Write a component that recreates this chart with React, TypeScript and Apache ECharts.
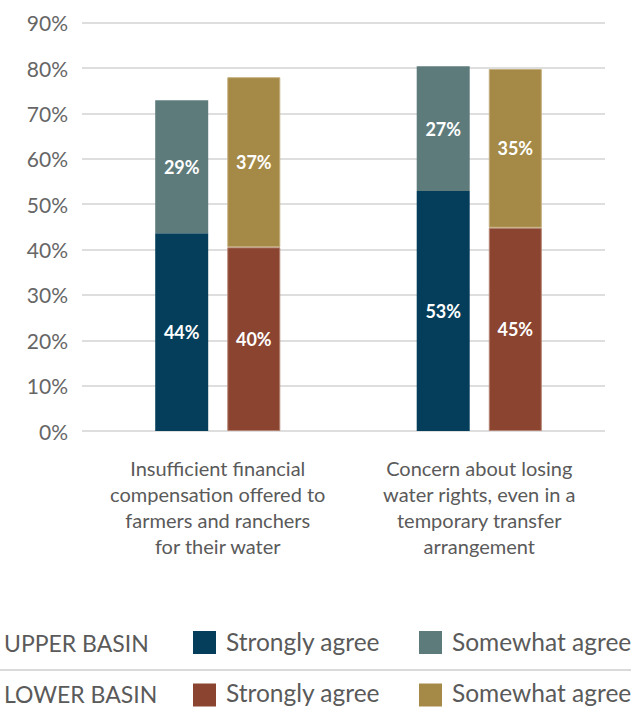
import React, { useEffect, useRef } from "react";
import * as echarts from "echarts";

const categories = [
  "Insufficient financial\ncompensation offered to\nfarmers and ranchers\nfor their water",
  "Concern about losing\nwater rights, even in a\ntemporary transfer\narrangement",
];
const upperStrongly = [43.6, 52.9];
const upperSomewhat = [29.3, 27.49];
const lowerStrongly = [40.49, 44.8];
const lowerSomewhat = [37.49, 35.0];
const basinNames = ["UPPER BASIN", "LOWER BASIN"];
const agreeNames = ["Strongly agree", "Somewhat agree"];
const yMin = 0;
const yMax = 90;
const yInterval = 10;

const COLORS = {
  upperStrong: "#053E5A",
  upperSome: "#5E7B7C",
  lowerStrong: "#8A4430",
  lowerSome: "#A58A47",
};
const FONT = "Lato, 'Noto Sans', sans-serif";
const TEXT = "#5a5a5a";

export default function App() {
  const ref = useRef<HTMLDivElement>(null);
  useEffect(() => {
    if (!ref.current) return;
    const chart = echarts.init(ref.current, null, { renderer: "svg" });
    const label = {
      show: true,
      position: "inside",
      color: "#ffffff",
      fontSize: 18,
      fontWeight: "bold",
      fontFamily: FONT,
      formatter: (p: any) => Math.round(p.value) + "%",
    };
    const mk = (name: string, data: number[], stack: string, color: string, border?: string) => ({
      name,
      type: "bar",
      stack,
      data,
      xAxisIndex: 1,
      yAxisIndex: 1,
      barWidth: 53,
      barGap: "36%",
      itemStyle: border ? { color, borderColor: border, borderWidth: 1 } : { color },
      label,
    });
    const rowY = [642.5, 695];
    const textY = [643, 693.5];
    const rowColors = [
      [COLORS.upperStrong, COLORS.upperSome],
      [COLORS.lowerStrong, COLORS.lowerSome],
    ];
    const graphic: any[] = [];
    basinNames.forEach((b, i) => {
      graphic.push({
        type: "text",
        x: 4,
        y: textY[i],
        style: { text: b, fontSize: 23, fontFamily: FONT, fill: TEXT, verticalAlign: "middle" },
      });
      agreeNames.forEach((a, j) => {
        const sx = j === 0 ? 193 : 419;
        graphic.push({
          type: "rect",
          shape: { x: sx, y: rowY[i] - 11.5, width: 23, height: 23 },
          style: { fill: rowColors[i][j] },
        });
        graphic.push({
          type: "text",
          x: sx + 33,
          y: textY[i] - 1.5,
          style: { text: a, fontSize: 24.5, fontFamily: FONT, fill: TEXT, verticalAlign: "middle" },
        });
      });
    });
    graphic.push({
      type: "line",
      shape: { x1: 0, y1: 670, x2: 631, y2: 670 },
      style: { stroke: "#dadada", lineWidth: 2 },
    });

    chart.setOption({
      animation: false,
      grid: [
        { left: 82, right: 26, top: 22.7, bottom: 277 },
        { left: 87, right: 21, top: 22.7, bottom: 277 },
      ],
      xAxis: [
        {
          gridIndex: 0,
          type: "category",
          data: categories,
          axisLine: { show: false },
          axisTick: { show: false },
          axisLabel: { show: false },
        },
        {
          gridIndex: 1,
          type: "category",
          data: categories,
          axisLine: { show: false },
          axisTick: { show: false },
          axisLabel: {
            color: TEXT,
            fontSize: 20,
            lineHeight: 26,
            fontFamily: FONT,
            margin: 24,
            interval: 0,
          },
        },
      ],
      yAxis: [
        {
          gridIndex: 0,
          type: "value",
          min: yMin,
          max: yMax,
          interval: yInterval,
          axisLine: { show: false },
          axisTick: { show: false },
          axisLabel: {
            formatter: "{value}%",
            color: "#666666",
            fontSize: 21,
            fontFamily: FONT,
            margin: 14,
          },
          splitLine: { lineStyle: { color: "#dedede", width: 2 } },
        },
        {
          gridIndex: 1,
          type: "value",
          min: yMin,
          max: yMax,
          interval: yInterval,
          show: false,
          splitLine: { show: false },
        },
      ],
      series: [
        mk("Upper basin - Strongly agree", upperStrongly, "upper", COLORS.upperStrong),
        mk("Upper basin - Somewhat agree", upperSomewhat, "upper", COLORS.upperSome),
        mk("Lower basin - Strongly agree", lowerStrongly, "lower", COLORS.lowerStrong, "#b48272"),
        mk("Lower basin - Somewhat agree", lowerSomewhat, "lower", COLORS.lowerSome, "#c3ad7c"),
      ],
      graphic,
    });
    return () => chart.dispose();
  }, []);
  return (
    <div
      ref={ref}
      style={{ position: "absolute", left: 0, top: 0, width: 631, height: 708, background: "#fff" }}
    />
  );
}
